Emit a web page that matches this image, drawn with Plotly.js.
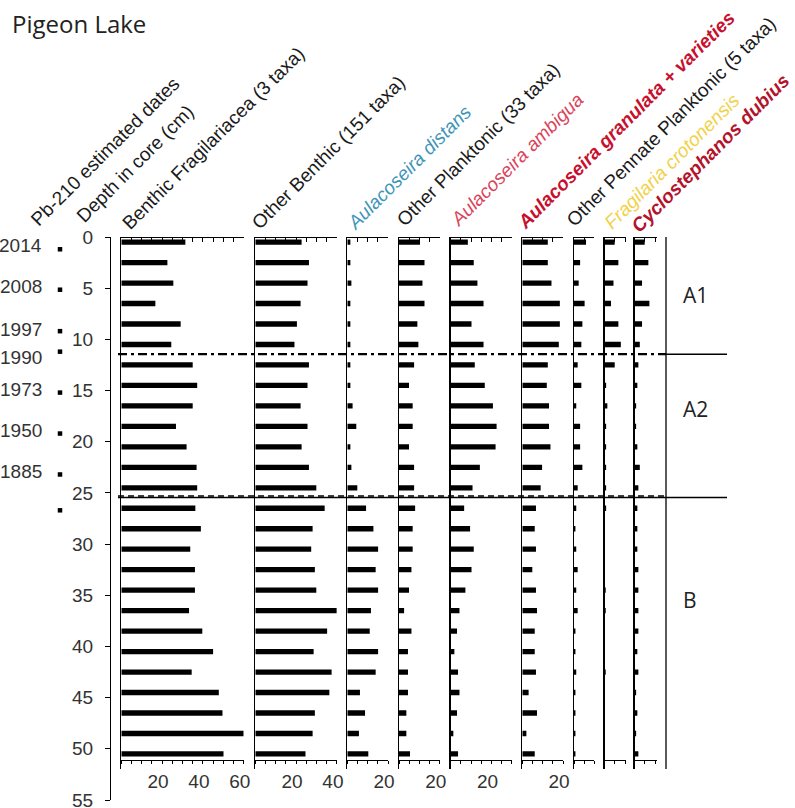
<!DOCTYPE html>
<html>
<head>
<meta charset="utf-8">
<script src="https://cdn.plot.ly/plotly-3.0.1.min.js"></script>
<style>
  html, body { margin: 0; padding: 0; background: #fff; }
  #chart { width: 795px; height: 808px; }
</style>
</head>
<body>
<div id="chart"></div>
<script>
// Pigeon Lake diatom stratigraphy: relative abundance (%) by core depth (cm)

const depths = [0.5, 2.5, 4.5, 6.5, 8.5, 10.5, 12.5, 14.5, 16.5, 18.5, 20.5, 22.5, 24.5,
                26.5, 28.5, 30.5, 32.5, 34.5, 36.5, 38.5, 40.5, 42.5, 44.5, 46.5, 48.5, 50.5];

const benthicFragilariacea = [31.4, 22.6, 25.5, 16.7, 29.1, 24.5, 35, 37.2, 35, 26.8, 32, 36.9, 37.2,
                              36.3, 39, 33.8, 36.1, 36.1, 33.2, 39.7, 45, 34.5, 47.8, 49.6, 60, 50.1];
const otherBenthic = [22.7, 26.3, 25.6, 22.2, 20.4, 19.2, 26.3, 25.6, 22.2, 25.6, 22.7, 26.3, 29.9,
                      34, 28.1, 27.4, 29.2, 29.9, 39.9, 35.2, 28.6, 37.4, 36.3, 29.2, 28.1, 24.6];
const aulacoseiraDistans = [1.5, 1.5, 2, 1.5, 1.5, 1.5, 1.5, 1.5, 2.6, 4.4, 1.5, 2, 4.9,
                            9.2, 12.8, 15.1, 13.9, 15.1, 11.6, 11, 15.1, 13.9, 6.2, 8.7, 5.7, 10.3];
const otherPlanktonic = [10.3, 12.5, 11.5, 12.5, 9, 9.5, 7.4, 4.9, 6.7, 6.7, 4.9, 7.4, 7.4,
                         7.9, 6.7, 6.7, 6.1, 4.9, 2.5, 6.1, 4.4, 4.4, 4.4, 3.6, 3.6, 5.4];
const aulacoseiraAmbigua = [8.4, 11.3, 13.1, 16.1, 10.2, 16.1, 11.8, 16.7, 20.7, 22.5, 22, 14.3, 10.7,
                            6.6, 9.5, 11.3, 10.2, 7.2, 4.3, 3.1, 1.8, 3.6, 4.3, 3.1, 1.3, 3.6];
const aulacoseiraGranulata = [12.5, 12.5, 14.3, 18.4, 18.4, 17.9, 12.5, 12, 13.1, 13.1, 13.8, 9.7, 9,
                              6.7, 6.1, 6.7, 4.9, 6.7, 7.2, 6.1, 6.1, 6.7, 3.1, 7.2, 2, 6.1];
const otherPennatePlanktonic = [5.9, 3, 2.3, 5.2, 4.1, 3.6, 1.8, 3.6, 1.1, 3, 3, 4.1, 1.8,
                                1.1, 0.7, 1.1, 1.8, 1.1, 1.8, 0.7, 0.7, 1.1, 0.7, 0.7, 0.7, 0.7];
const fragilariaCrotonensis = [4.9, 6.7, 4.3, 3.1, 6.7, 7.9, 4.9, 0.7, 1.3, 0.7, 0.7, 0.7, 0.7,
                               0.7, 0, 0, 0, 0.5, 0.5, 0, 0, 0.5, 0, 0, 0, 0];
const cyclostephanosDubius = [4.9, 6.7, 3.6, 7.2, 3.6, 2.5, 1.8, 1.3, 0.7, 0.7, 1.3, 2.5, 1.8,
                              1.3, 1.3, 1.3, 1.8, 1.8, 1.8, 1.8, 1.3, 1.8, 0.7, 1.3, 0.7, 1.8];

const panelTitles = [
  'Benthic Fragilariacea (3 taxa)',
  'Other Benthic (151 taxa)',
  'Aulacoseira distans',
  'Other Planktonic (33 taxa)',
  'Aulacoseira ambigua',
  'Aulacoseira granulata + varieties',
  'Other Pennate Planktonic (5 taxa)',
  'Fragilaria crotonensis',
  'Cyclostephanos dubius'
];
const panelSeries = [benthicFragilariacea, otherBenthic, aulacoseiraDistans, otherPlanktonic,
                     aulacoseiraAmbigua, aulacoseiraGranulata, otherPennatePlanktonic,
                     fragilariaCrotonensis, cyclostephanosDubius];
const panelMax = [60, 40, 20, 20, 30, 20, 10, 10.5, 11];
const labelledTicks = [20, 40, 60];

// Pb-210 dates and the depths they were assigned to
const dateDepths = [1.2, 5.15, 9.2, 11.2, 15.2, 19.2, 23.2, 26.7];
const dateLabels = ['2014', '2008', '1997', '1990', '1973', '1950', '1885', ''];

// Zone boundaries (cm) and names
const zoneBoundaries = [11.45, 25.45];
const zoneNames = ['A1', 'A2', 'B'];

// ---- layout geometry (pixels) ----
const W = 795, H = 808;
const px = v => v / W;
const py = v => 1 - v / H;
const TOP = 237, AXIS_Y = 760, LINE_BOTTOM = 769, DEPTH_BOTTOM = 800;
const PX_PER_CM = (DEPTH_BOTTOM - TOP) / 55;
const panelDepthMax = (LINE_BOTTOM - TOP) / PX_PER_CM;
const PX_PER_PCT = 2.04;
const panelLeft = [121.3, 255.3, 347.3, 399, 450.7, 522.3, 574, 604.7, 634.7];
const FRAME_RIGHT = 666, ZONE_RIGHT = 727, LINE_LEFT = 118;

const titleStyles = [
  { color: '#1a1a1a' },
  { color: '#1a1a1a' },
  { color: '#3f95b8', italic: true },
  { color: '#1a1a1a' },
  { color: '#d9455c', italic: true },
  { color: '#c8102e', italic: true, bold: true },
  { color: '#1a1a1a' },
  { color: '#f0d24a', italic: true },
  { color: '#b3132b', italic: true, bold: true }
];
const titleStart = [[128, 230], [258, 230], [353, 230], [403, 227], [457, 227],
                    [523, 230], [573, 227], [610, 230], [637, 233]];

const zoneLabelPos = [[681, 295], [681, 409], [681, 600]];
const dateShift = [-3.4, -3.3, -2, 5.7, -3.4, -3, -2.7, 0];

const FONT = 'Liberation Sans, Arial, sans-serif';
const tickFont = { family: FONT, size: 19, color: '#333' };

const traces = [];
const layout = {
  width: W, height: H,
  margin: { l: 0, r: 0, t: 0, b: 0 },
  paper_bgcolor: '#fff', plot_bgcolor: 'rgba(0,0,0,0)',
  showlegend: false,
  shapes: [], annotations: []
};

function axKey(letter, n) { return (n === 1 ? letter + 'axis' : letter + 'axis' + n); }

// depth axis
layout.yaxis = {
  domain: [py(DEPTH_BOTTOM), py(TOP)],
  range: [55, 0], autorange: false,
  anchor: 'free', position: px(110), side: 'left',
  showline: true, linecolor: '#000', linewidth: 1.2,
  ticks: 'outside', ticklen: 5, tickwidth: 1, tickcolor: '#000',
  tick0: 0, dtick: 5, tickfont: tickFont, ticklabelstandoff: 8,
  ticklabeloverflow: 'allow',
  showgrid: false, zeroline: false
};
layout.xaxis10 = {
  type: 'category', domain: [px(40), px(80)], anchor: 'free', position: 0,
  visible: false, showgrid: false, zeroline: false
};
traces.push({
  type: 'scatter', mode: 'markers',
  x: dateDepths.map(() => 'Pb-210'), y: dateDepths,
  xaxis: 'x10', yaxis: 'y',
  marker: { symbol: 'square', size: 4.5, color: '#000' },
  hoverinfo: 'skip', cliponaxis: false
});
dateDepths.forEach((d, i) => {
  if (!dateLabels[i]) return;
  layout.annotations.push({
    text: dateLabels[i], xref: 'paper', yref: 'y', x: px(44), y: d,
    xanchor: 'right', yanchor: 'middle', yshift: -dateShift[i],
    showarrow: false, font: tickFont
  });
});

// diatom panels
panelSeries.forEach((vals, i) => {
  const n = i + 1;
  const yId = 'y' + (n + 1);
  const max = panelMax[i];
  const dom = [px(panelLeft[i]), px(panelLeft[i] + max * PX_PER_PCT)];
  const tv = [];
  for (let v = 0; v <= max + 1e-9; v += 5) tv.push(v);
  const tt = tv.map(v => labelledTicks.includes(v) ? String(v) : '');

  layout[axKey('x', n)] = {
    domain: dom, range: [0, max], autorange: false,
    anchor: 'free', position: py(AXIS_Y), side: 'bottom',
    showline: true, linecolor: '#000', linewidth: 1.2,
    ticks: 'outside', ticklen: 3, tickwidth: 1, tickcolor: '#000',
    tickmode: 'array', tickvals: tv, ticktext: tt,
    tickfont: tickFont, ticklabelshift: -4, ticklabelstandoff: 1,
    ticklabeloverflow: 'allow',
    showgrid: false, zeroline: false
  };
  layout[axKey('x', n + 10)] = {
    overlaying: 'x' + (n === 1 ? '' : n), domain: dom, range: [0, max], autorange: false,
    anchor: 'free', position: py(TOP), side: 'top',
    showline: true, linecolor: '#000', linewidth: 1.2,
    ticks: 'inside', ticklen: 4, tickwidth: 1, tickcolor: '#000',
    tickmode: 'array', tickvals: tv, showticklabels: false,
    showgrid: false, zeroline: false
  };
  layout['yaxis' + (n + 1)] = {
    domain: [py(LINE_BOTTOM), py(TOP)], range: [panelDepthMax, 0], autorange: false,
    anchor: 'x' + (n === 1 ? '' : n), side: 'left',
    showline: true, linecolor: '#000', linewidth: 1.3,
    ticks: '', showticklabels: false, showgrid: false, zeroline: false
  };

  traces.push({
    type: 'bar', orientation: 'h', x: vals, y: depths,
    xaxis: 'x' + (n === 1 ? '' : n), yaxis: yId,
    width: 0.52, marker: { color: '#000', line: { width: 0 } },
    hoverinfo: 'skip'
  });
  traces.push({
    type: 'scatter', mode: 'markers', x: [null], y: [null],
    xaxis: 'x' + (n + 10), yaxis: yId, hoverinfo: 'skip'
  });

  // rotated column heading
  const st = titleStyles[i];
  const [sx, sy] = titleStart[i];
  layout.annotations.push({
    text: st.bold ? '<b>' + panelTitles[i] + '</b>' : panelTitles[i],
    xref: 'paper', yref: 'paper', x: px(sx - 13), y: py(sy + 6),
    xanchor: 'left', yanchor: 'bottom', textangle: -45, showarrow: false,
    font: { family: FONT, size: 19, color: st.color, style: st.italic ? 'italic' : 'normal' }
  });
});

// headings for the date and depth columns
[['Pb-210 estimated dates', 37, 227], ['Depth in core (cm)', 83, 223]].forEach(([t, sx, sy]) => {
  layout.annotations.push({
    text: t, xref: 'paper', yref: 'paper', x: px(sx - 13), y: py(sy + 6),
    xanchor: 'left', yanchor: 'bottom', textangle: -45, showarrow: false,
    font: { family: FONT, size: 19, color: '#1a1a1a' }
  });
});

// frame line right of the last panel
layout.shapes.push({
  type: 'line', xref: 'paper', yref: 'paper',
  x0: px(FRAME_RIGHT), x1: px(FRAME_RIGHT), y0: py(TOP), y1: py(LINE_BOTTOM),
  line: { color: '#000', width: 1.3 }
});

// zone boundaries
layout.shapes.push({
  type: 'line', xref: 'paper', yref: 'y2',
  x0: px(LINE_LEFT), x1: px(FRAME_RIGHT), y0: zoneBoundaries[0], y1: zoneBoundaries[0],
  line: { color: '#000', width: 2.2, dash: '9px,4px,3px,4px' }
});
layout.shapes.push({
  type: 'line', xref: 'paper', yref: 'y2',
  x0: px(FRAME_RIGHT), x1: px(ZONE_RIGHT), y0: zoneBoundaries[0], y1: zoneBoundaries[0],
  line: { color: '#000', width: 1.5 }
});
layout.shapes.push({
  type: 'line', xref: 'paper', yref: 'y2',
  x0: px(LINE_LEFT), x1: px(ZONE_RIGHT), y0: zoneBoundaries[1], y1: zoneBoundaries[1],
  line: { color: '#000', width: 1.5 }
});
layout.shapes.push({
  type: 'line', xref: 'paper', yref: 'y2',
  x0: px(LINE_LEFT), x1: px(FRAME_RIGHT), y0: zoneBoundaries[1] - 0.15, y1: zoneBoundaries[1] - 0.15,
  line: { color: '#000', width: 1.5, dash: '6px,4px' }
});

zoneNames.forEach((z, i) => {
  layout.annotations.push({
    text: z, xref: 'paper', yref: 'paper',
    x: px(zoneLabelPos[i][0]), y: py(zoneLabelPos[i][1]),
    xanchor: 'left', yanchor: 'middle', showarrow: false,
    font: { family: 'Open Sans, sans-serif', size: 21, color: '#222' }
  });
});

// chart title
layout.annotations.push({
  text: 'Pigeon Lake', xref: 'paper', yref: 'paper', x: px(10), y: py(23),
  xanchor: 'left', yanchor: 'middle', showarrow: false,
  font: { family: 'Open Sans, sans-serif', size: 24, color: '#222' }
});

Plotly.newPlot('chart', traces, layout, { staticPlot: true, displayModeBar: false });
</script>
</body>
</html>
